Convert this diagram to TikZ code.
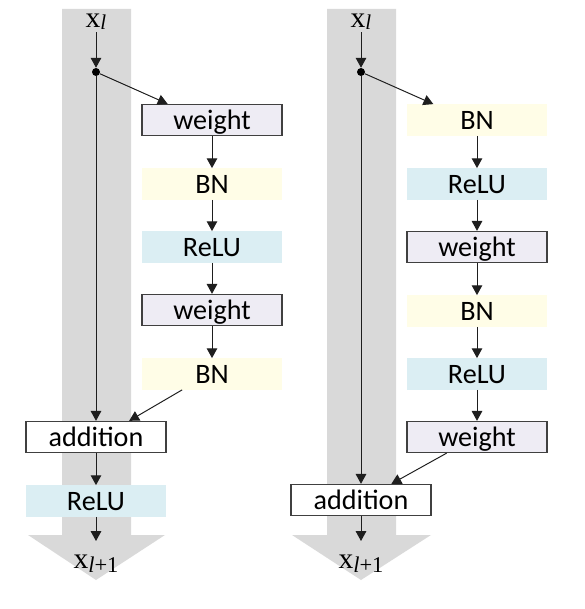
\documentclass[tikz,border=0pt]{standalone}
\usepackage{fontspec}
\setmainfont{Carlito}
\newfontfamily\serifx{Liberation Serif}
\usetikzlibrary{arrows.meta}
\definecolor{bandgray}{RGB}{217,217,217}
\definecolor{bnfill}{RGB}{255,253,231}
\definecolor{relufill}{RGB}{219,238,243}
\definecolor{wfill}{RGB}{238,236,244}
\definecolor{boxline}{RGB}{64,64,64}
\definecolor{arrowcol}{RGB}{30,30,30}
\tikzset{
  block/.style={minimum width=3.5cm, minimum height=0.78cm, inner sep=0pt,
    text height=13pt, text depth=0pt, font=\fontsize{20}{24}\selectfont},
  wbox/.style={block, draw=boxline, fill=wfill, line width=0.8pt},
  addbox/.style={block, draw=boxline, fill=white, line width=0.8pt},
  bnbox/.style={block, fill=bnfill},
  relubox/.style={block, fill=relufill},
  flow/.style={-{Triangle[length=7pt,width=7.5pt]}, line width=0.7pt, draw=arrowcol},
  xlab/.style={font=\serifx\fontsize{21}{24}\selectfont, anchor=base, inner sep=2pt},
  dot/.style={circle, fill=black, inner sep=0pt, minimum size=0.2cm}
}
\begin{document}
\begin{tikzpicture}[x=0.025cm, y=-0.025cm]
    \useasboundingbox (0,0) rectangle (584,609);
    \fill[bandgray] (62,9) -- (131,9) -- (131,535) -- (165,535) -- (96,580) -- (28,535) -- (62,535) -- cycle;
    \fill[bandgray] (327,9) -- (396,9) -- (396,535) -- (431,535) -- (361,580) -- (292,535) -- (327,535) -- cycle;

    \node[xlab] (xinL) at (96,28) {x\raisebox{-1pt}{\fontsize{15}{18}\selectfont\itshape l}};
    \node[dot] (dotL) at (96,72) {};
    \node[wbox] (w1) at (212,120) {weight};
    \node[bnbox] (bn1) at (212,184) {BN};
    \node[relubox] (r1) at (212,247) {ReLU};
    \node[wbox] (w2) at (212,310) {weight};
    \node[bnbox] (bn2) at (212,374) {BN};
    \node[addbox] (addL) at (96,437) {addition};
    \node[relubox] (rL) at (96,501) {ReLU};
    \coordinate (outL) at (96,541);
    \node[xlab] (xoutL) at (96,568) {x\raisebox{-3pt}{\fontsize{16}{18}\selectfont\itshape l\upshape+1}};

    \draw[flow] (xinL) -- (dotL);
    \draw[flow] (dotL) -- (w1.160);
    \draw[flow] (w1) -- (bn1);
    \draw[flow] (bn1) -- (r1);
    \draw[flow] (r1) -- (w2);
    \draw[flow] (w2) -- (bn2);
    \draw[flow] (bn2.208) -- (addL.26);
    \draw[flow] (dotL) -- (addL);
    \draw[flow] (addL) -- (rL);
    \draw[flow] (rL) -- (outL);

    \node[xlab] (xinR) at (361,28) {x\raisebox{-1pt}{\fontsize{15}{18}\selectfont\itshape l}};
    \node[dot] (dotR) at (361,72) {};
    \node[bnbox] (bnA) at (477,120) {BN};
    \node[relubox] (rA) at (477,184) {ReLU};
    \node[wbox] (wA) at (477,247) {weight};
    \node[bnbox] (bnB) at (477,311) {BN};
    \node[relubox] (rB) at (477,374) {ReLU};
    \node[wbox] (wB) at (477,437) {weight};
    \node[addbox] (addR) at (361,500) {addition};
    \coordinate (outR) at (361,541);
    \node[xlab] (xoutR) at (361,568) {x\raisebox{-3pt}{\fontsize{16}{18}\selectfont\itshape l\upshape+1}};

    \draw[flow] (xinR) -- (dotR);
    \draw[flow] (dotR) -- (bnA.160);
    \draw[flow] (bnA) -- (rA);
    \draw[flow] (rA) -- (wA);
    \draw[flow] (wA) -- (bnB);
    \draw[flow] (bnB) -- (rB);
    \draw[flow] (rB) -- (wB);
    \draw[flow] (wB.208) -- (addR.28);
    \draw[flow] (dotR) -- (addR);
    \draw[flow] (addR) -- (outR);
\end{tikzpicture}
\end{document}
